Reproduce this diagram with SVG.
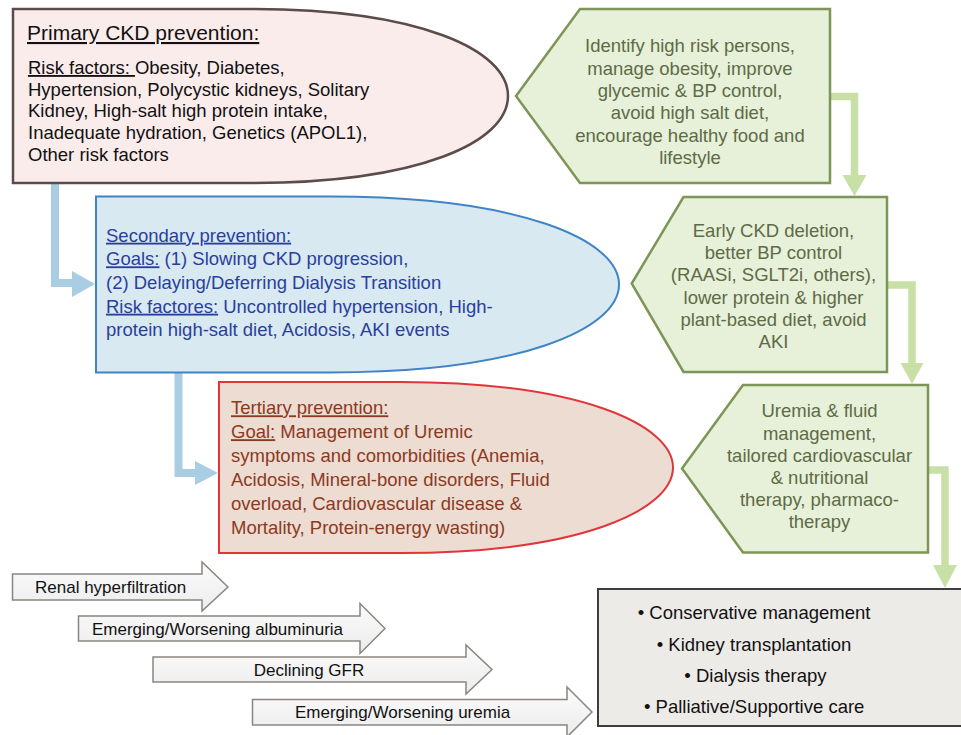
<svg xmlns="http://www.w3.org/2000/svg" width="961" height="735" viewBox="0 0 961 735">
<style>
text{font-family:"Liberation Sans",Arial,Helvetica,sans-serif}
.u{text-decoration:underline}
.body{font-size:18.5px}
.prim{fill:#111111}
.sec{fill:#2a3f9d}
.ter{fill:#8b3a1f}
.grn{fill:#5d6b47;font-size:18.5px;text-anchor:middle}
.pent{fill:#e7f0d8;stroke:#7d9556;stroke-width:2.5;stroke-linejoin:miter}
.gline{fill:none;stroke:#c8dfa6;stroke-width:7.5}
.ghead{fill:#c8dfa6}
.bline{fill:none;stroke:#a9cde2;stroke-width:8}
.bhead{fill:#a9cde2}
.stage{fill:url(#gArrow);stroke:#8a8580;stroke-width:1.5;stroke-linejoin:miter}
.stxt{font-size:17px;fill:#111111}
.btxt{font-size:18.5px;fill:#111111}
</style>
<defs>
<linearGradient id="gArrow" x1="0" y1="0" x2="0" y2="1">
<stop offset="0" stop-color="#fbfbfb"/>
<stop offset="1" stop-color="#ececec"/>
</linearGradient>
</defs>

<g id="connectors">
<path class="bline" d="M55,183 V283 H73"/>
<polygon class="bhead" points="72,271 72,297 95,284"/>
<path class="bline" d="M178.5,373 V473 H196"/>
<polygon class="bhead" points="195,461 195,485 218,473"/>
<path class="gline" d="M830,96.5 H854.5 V176"/>
<polygon class="ghead" points="842.5,175 866.5,175 854.5,196"/>
<path class="gline" d="M887,285 H912 V364"/>
<polygon class="ghead" points="900.5,363 923.5,363 912,384"/>
<path class="gline" d="M928,470 H945 V566"/>
<polygon class="ghead" points="933,565 957,565 945,588"/>
</g>

<g id="primary">
<path d="M13,9 H250 C420,9 508,50 508,96 C508,142 420,183 250,183 H13 Z" fill="#fbecec" stroke="#5b4b4b" stroke-width="2.5"/>
<text class="prim" x="27" y="40" font-size="21px"><tspan class="u">Primary CKD prevention:</tspan></text>
<text class="prim body" x="28" y="74"><tspan class="u">Risk factors: </tspan>Obesity, Diabetes,</text>
<text class="prim body" x="28" y="95.7">Hypertension, Polycystic kidneys, Solitary</text>
<text class="prim body" x="28" y="117.4">Kidney, High-salt high protein intake,</text>
<text class="prim body" x="28" y="139.1">Inadequate hydration, Genetics (APOL1),</text>
<text class="prim body" x="28" y="160.8">Other risk factors</text>
</g>

<g id="secondary">
<path d="M96,196.5 H330 C520,196.5 619,240 619,284.5 C619,329 520,372.5 330,372.5 H96 Z" fill="#d8e9f2" stroke="#3f85c5" stroke-width="2"/>
<text class="sec body" x="106" y="241.7"><tspan class="u">Secondary prevention:</tspan></text>
<text class="sec body" x="106" y="265.3"><tspan class="u">Goals:</tspan> (1) Slowing CKD progression,</text>
<text class="sec body" x="106" y="289"><tspan>(2) Delaying/Deferring Dialysis Transition</tspan></text>
<text class="sec body" x="106" y="312.7"><tspan class="u">Risk factores:</tspan> Uncontrolled hypertension, High-</text>
<text class="sec body" x="106" y="336.4">protein high-salt diet, Acidosis, AKI events</text>
</g>

<g id="tertiary">
<path d="M219,382 H400 C580,382 673,425 673,467.5 C673,510 580,553 400,553 H219 Z" fill="#eddcd2" stroke="#e0353a" stroke-width="2"/>
<text class="ter body" x="231" y="414.3"><tspan class="u">Tertiary prevention:</tspan></text>
<text class="ter body" x="231" y="438.2"><tspan class="u">Goal:</tspan> Management of Uremic</text>
<text class="ter body" x="231" y="462">symptoms and comorbidities (Anemia,</text>
<text class="ter body" x="231" y="485.9">Acidosis, Mineral-bone disorders, Fluid</text>
<text class="ter body" x="231" y="509.8">overload, Cardiovascular disease &amp;</text>
<text class="ter body" x="231" y="533.7">Mortality, Protein-energy wasting)</text>
</g>

<g id="action1">
<polygon class="pent" points="516,96 580,9 830,9 830,183 580,183"/>
<text class="grn" x="690" y="52.3">Identify high risk persons,</text>
<text class="grn" x="690" y="74.6">manage obesity, improve</text>
<text class="grn" x="690" y="96.9">glycemic &amp; BP control,</text>
<text class="grn" x="690" y="119.2">avoid high salt diet,</text>
<text class="grn" x="690" y="141.5">encourage healthy food and</text>
<text class="grn" x="690" y="163.8">lifestyle</text>
</g>

<g id="action2">
<polygon class="pent" points="631.7,283.5 683.5,197 887,197 887,372 683.5,372"/>
<text class="grn" x="773.5" y="236.7">Early CKD deletion,</text>
<text class="grn" x="773.5" y="259">better BP control</text>
<text class="grn" x="773.5" y="281.3">(RAASi, SGLT2i, others),</text>
<text class="grn" x="773.5" y="303.6">lower protein &amp; higher</text>
<text class="grn" x="773.5" y="325.9">plant-based diet, avoid</text>
<text class="grn" x="773.5" y="348.2">AKI</text>
</g>

<g id="action3">
<polygon class="pent" points="682,468.5 743,385 928,385 928,552.5 743,552.5"/>
<text class="grn" x="819.5" y="417.3">Uremia &amp; fluid</text>
<text class="grn" x="819.5" y="439.5">management,</text>
<text class="grn" x="819.5" y="461.7">tailored cardiovascular</text>
<text class="grn" x="819.5" y="483.9">&amp; nutritional</text>
<text class="grn" x="819.5" y="506.1">therapy, pharmaco-</text>
<text class="grn" x="819.5" y="528.3">therapy</text>
</g>

<g id="stage1">
<polygon class="stage" points="12.5,574 202,574 202,562 228,587 202,611 202,600 12.5,600"/>
<text class="stxt" x="35" y="593">Renal hyperfiltration</text>
</g>
<g id="stage2">
<polygon class="stage" points="78.5,616 360,616 360,603.5 385,628.5 360,653.5 360,641 78.5,641"/>
<text class="stxt" x="92" y="634.5">Emerging/Worsening albuminuria</text>
</g>
<g id="stage3">
<polygon class="stage" points="153,657 466,657 466,645 492,669.5 466,694 466,682 153,682"/>
<text class="stxt" x="309" y="675.5" text-anchor="middle">Declining GFR</text>
</g>
<g id="stage4">
<polygon class="stage" points="252.5,699.5 567,699.5 567,687 592,712 567,737 567,725 252.5,725"/>
<text class="stxt" x="295" y="717.5">Emerging/Worsening uremia</text>
</g>

<g id="outcomes">
<rect x="598" y="589" width="372" height="137" fill="#edebe8" stroke="#3d3d3d" stroke-width="2"/>
<text class="btxt" x="637.7" y="619">• Conservative management</text>
<text class="btxt" x="656.7" y="651">• Kidney transplantation</text>
<text class="btxt" x="684.3" y="681.7">• Dialysis therapy</text>
<text class="btxt" x="644" y="712.5">• Palliative/Supportive care</text>
</g>
</svg>
